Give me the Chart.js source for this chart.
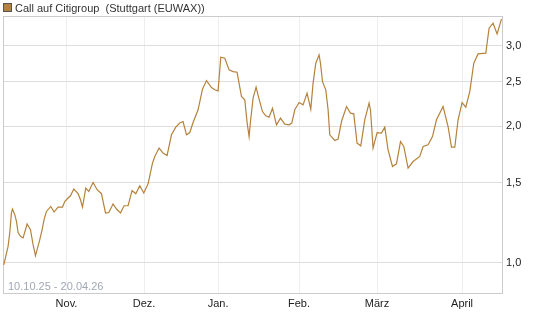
<!DOCTYPE html>
<html>
<head>
<meta charset="utf-8">
<script src="https://cdn.jsdelivr.net/npm/chart.js@4/dist/chart.umd.min.js"></script>
<style>
html, body { margin: 0; padding: 0; background: #fff; }
#wrap { width: 545px; height: 327px; }
</style>
</head>
<body>
<div id="wrap"><canvas id="chart" width="545" height="327"></canvas></div>
<script>
// x position in days after 10.10.25
const days = [
  0, 0.77, 1.66, 2.31, 2.97, 3.36, 4.24, 4.90, 5.52, 6.44, 7.45, 8.99, 10.30, 11.30, 12.23, 12.85,
  13.89, 14.78, 15.55, 16.47, 18.13, 19.41, 20.95, 22.65, 23.53, 24.81, 25.73, 27.01, 28.67, 29.59,
  30.36, 31.64, 32.79, 34.45, 36.00, 37.69, 39.24, 40.51, 42.17, 43.48, 45.02, 46.41, 47.96, 49.50,
  50.93, 52.47, 54.01, 55.67, 57.37, 58.26, 59.92, 61.46, 63.00, 64.70, 66.36, 67.90, 69.17, 70.49,
  71.76, 73.03, 74.96, 76.66, 78.20, 80.13, 81.40, 82.68, 83.72, 85.26, 86.92, 88.46, 90.01, 91.70,
  92.98, 93.87, 94.64, 95.18, 96.18, 97.34, 98.50, 99.81, 101.08, 102.35, 103.67, 105.21, 106.75,
  108.41, 110.07, 111.11, 112.27, 113.93, 115.47, 117.01, 118.44, 119.33, 120.37, 121.64, 122.18,
  122.96, 124.23, 125.12, 125.77, 127.70, 128.97, 130.29, 132.22, 133.76, 135.03, 136.30, 137.73,
  139.27, 140.93, 141.47, 142.48, 144.02, 145.72, 146.99, 148.26, 149.96, 151.50, 153.05, 154.32,
  155.98, 157.91, 160.49, 161.77, 163.70, 165.39, 166.94, 169.48, 171.41, 172.72, 174.00, 175.27,
  176.81, 178.24, 179.78, 181.33, 182.99, 185.96, 187.23, 188.77, 190.32, 192.01
];

const prices = [
  0.991, 1.034, 1.088, 1.166, 1.290, 1.314, 1.277, 1.234, 1.166, 1.144, 1.135, 1.218, 1.183, 1.097, 1.038, 1.070,
  1.125, 1.183, 1.245, 1.298, 1.331, 1.294, 1.327, 1.327, 1.365, 1.389, 1.405, 1.454, 1.420, 1.377,
  1.327, 1.461, 1.436, 1.503, 1.449, 1.420, 1.288, 1.291, 1.348, 1.314, 1.288, 1.336, 1.336, 1.443,
  1.420, 1.478, 1.425, 1.493, 1.658, 1.714, 1.789, 1.744, 1.723, 1.913, 1.989, 2.030, 2.046, 1.913,
  1.935, 2.036, 2.171, 2.410, 2.517, 2.430, 2.402, 2.389, 2.833, 2.819, 2.657, 2.634, 2.626, 2.322,
  2.283, 2.036, 1.896, 2.046, 2.303, 2.435, 2.291, 2.152, 2.106, 2.092, 2.189, 2.012, 2.082,
  2.019, 2.012, 2.030, 2.171, 2.252, 2.226, 2.362, 2.178, 2.484, 2.749, 2.867, 2.749,
  2.504, 2.402, 2.171, 1.913, 1.859, 1.872, 2.046, 2.207, 2.135, 2.127, 1.834, 1.809,
  2.064, 2.245, 2.171, 1.789, 1.935, 1.930, 1.989, 1.773, 1.630, 1.652, 1.849, 1.803,
  1.617, 1.671, 1.714, 1.803, 1.819, 1.896, 2.064, 2.207, 1.995, 1.798, 1.798, 2.064,
  2.252, 2.200, 2.381, 2.749, 2.881, 2.891, 3.281, 3.365, 3.188, 3.434
];

const monthPos = [24.2, 54.1, 82.7, 113.9, 144.0, 176.8];
const monthLabels = ['Nov.', 'Dez.', 'Jan.', 'Feb.', 'März', 'April'];
const priceTicks = [1.0, 1.5, 2.0, 2.5, 3.0];

const titleText = 'Call auf Citigroup  (Stuttgart (EUWAX))';
const periodText = '10.10.25 - 20.04.26';
const lineColor = '#b5823c';
const fontFamily = '"Liberation Sans", Arial, sans-serif';

// frame round the plot, date range and header
const framePlugin = {
    id: 'frame',
    beforeDatasetsDraw(chart) {
        const { ctx, chartArea: a } = chart;
        ctx.save();
        ctx.strokeStyle = '#cccccc';
        ctx.lineWidth = 1;
        ctx.strokeRect(Math.round(a.left) + 0.5, Math.round(a.top) + 0.5,
            Math.round(a.right - a.left) - 1, Math.round(a.bottom - a.top));
        ctx.font = '11px ' + fontFamily;
        ctx.fillStyle = '#a0a8b4';
        ctx.textBaseline = 'alphabetic';
        ctx.fillText(periodText, a.left + 5, a.bottom - 3);
        ctx.restore();
    },
    afterDraw(chart) {
        const ctx = chart.ctx;
        ctx.save();
        ctx.fillStyle = lineColor;
        ctx.fillRect(4, 4, 7, 7);
        ctx.strokeStyle = '#555555';
        ctx.lineWidth = 1;
        ctx.strokeRect(3.5, 3.5, 8, 8);
        ctx.font = '11px ' + fontFamily;
        ctx.fillStyle = '#333333';
        ctx.textBaseline = 'alphabetic';
        ctx.fillText(titleText, 15, 12);
        ctx.restore();
    }
};

new Chart(document.getElementById('chart'), {
    type: 'line',
    data: {
        datasets: [{
            label: titleText,
            data: days.map((d, i) => ({ x: d, y: prices[i] })),
            borderColor: lineColor,
            borderWidth: 1.2,
            pointRadius: 0,
            tension: 0,
            fill: false
        }]
    },
    options: {
        responsive: false,
        animation: false,
        layout: { padding: { top: 16, left: 3, right: 0, bottom: 0 } },
        plugins: { legend: { display: false }, tooltip: { enabled: false } },
        scales: {
            x: {
                type: 'linear',
                min: -0.3,
                max: 192.6,
                afterBuildTicks: scale => { scale.ticks = monthPos.map(v => ({ value: v })); },
                afterFit: scale => { scale.height = 34; },
                grid: { color: '#eeeeee', drawTicks: false },
                border: { display: false },
                ticks: {
                    autoSkip: false,
                    maxRotation: 0,
                    padding: 4,
                    color: '#222222',
                    font: { family: fontFamily, size: 11 },
                    callback: (value, index) => monthLabels[index]
                }
            },
            y: {
                type: 'logarithmic',
                position: 'right',
                min: 0.859,
                max: 3.49,
                afterBuildTicks: scale => { scale.ticks = priceTicks.map(v => ({ value: v })); },
                afterFit: scale => { scale.width = 42; },
                grid: { color: '#dddddd', drawTicks: false },
                border: { display: false },
                ticks: {
                    padding: 3,
                    color: '#222222',
                    font: { family: fontFamily, size: 11 },
                    callback: value => value.toFixed(1).replace('.', ',')
                }
            }
        }
    },
    plugins: [framePlugin]
});
</script>
</body>
</html>
